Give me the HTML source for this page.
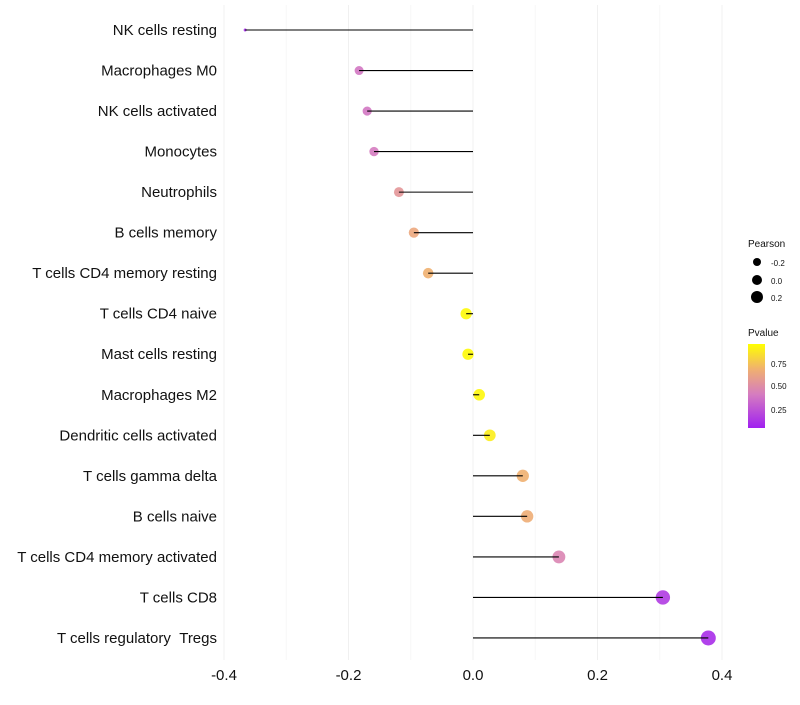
<!DOCTYPE html>
<html><head><meta charset="utf-8"><style>
body{margin:0;background:#fff;font-family:"Liberation Sans",sans-serif}
</style></head><body>
<svg id="chart" width="800" height="700" xmlns="http://www.w3.org/2000/svg">
<defs><linearGradient id="pg" x1="0" y1="1" x2="0" y2="0">
<stop offset="0" stop-color="#a020f0"/><stop offset="0.4" stop-color="#d57cc0"/><stop offset="0.7" stop-color="#f0b070"/><stop offset="1" stop-color="#ffff00"/></linearGradient></defs>
<g id="grid"></g>
<g id="marks"></g>
<g id="labels" font-size="15" fill="#111" text-anchor="end"></g>
<g id="xt" font-size="15" fill="#111" text-anchor="middle"></g>
<g font-size="10" fill="#111">
<text x="748" y="247">Pearson</text>
<circle cx="757" cy="262" r="4" fill="#000"/><text x="771" y="266" font-size="8">-0.2</text>
<circle cx="757" cy="280" r="5" fill="#000"/><text x="771" y="284" font-size="8">0.0</text>
<circle cx="757" cy="297" r="6" fill="#000"/><text x="771" y="301" font-size="8">0.2</text>
</g>
<g font-size="10" fill="#111">
<text x="748" y="336">Pvalue</text>
<rect x="748" y="344" width="17" height="84" fill="url(#pg)"/>
<text x="771" y="367" font-size="8">0.75</text><text x="771" y="389" font-size="8">0.50</text><text x="771" y="413" font-size="8">0.25</text>
</g>
</svg>
<script>
const categories=["NK cells resting","Macrophages M0","NK cells activated","Monocytes","Neutrophils","B cells memory","T cells CD4 memory resting","T cells CD4 naive","Mast cells resting","Macrophages M2","Dendritic cells activated","T cells gamma delta","B cells naive","T cells CD4 memory activated","T cells CD8","T cells regulatory\u00a0\u00a0Tregs"];
const pearson=[-0.366,-0.183,-0.170,-0.159,-0.119,-0.095,-0.072,-0.011,-0.008,0.010,0.027,0.080,0.087,0.138,0.305,0.378];
const pvalue=[0.05,0.38,0.38,0.40,0.55,0.65,0.70,0.98,0.98,0.97,0.93,0.70,0.68,0.45,0.12,0.06];
const xTicks=[-0.4,-0.2,0.0,0.2,0.4];
const xMinor=[-0.3,-0.1,0.1,0.3];
const NS="http://www.w3.org/2000/svg";
function xs(v){return 473+v*622.5;}
function ys(i){return 30+i*40.53;}
function rs(v){return 1.5+6*Math.sqrt(Math.max(0,(v+0.366)/0.744));}
function lerp(a,b,t){return Math.round(a+(b-a)*t);}
function col(p){const st=[[0,[160,32,240]],[0.4,[213,124,192]],[0.7,[240,176,112]],[1,[255,255,0]]];
 for(let k=0;k<st.length-1;k++){if(p<=st[k+1][0]){const t=(p-st[k][0])/(st[k+1][0]-st[k][0]);const a=st[k][1],b=st[k+1][1];return `rgb(${lerp(a[0],b[0],t)},${lerp(a[1],b[1],t)},${lerp(a[2],b[2],t)})`;}}return "rgb(255,255,0)";}
function mk(tag,at,parent){const e=document.createElementNS(NS,tag);for(const k in at)e.setAttribute(k,at[k]);parent.appendChild(e);return e;}
const grid=document.getElementById('grid'),marks=document.getElementById('marks'),labels=document.getElementById('labels'),xt=document.getElementById('xt');
xMinor.forEach(v=>{const l=mk('line',{x1:xs(v),x2:xs(v),y1:5,y2:660,stroke:'#f7f7f7','stroke-width':1},grid);

});
xTicks.forEach(v=>{const l=mk('line',{x1:xs(v),x2:xs(v),y1:5,y2:660,stroke:'#f0f0f0','stroke-width':1},grid);


const t=mk('text',{x:xs(v),y:680},xt);t.textContent=v.toFixed(1);

});
categories.forEach((c,i)=>{const y=ys(i);
const ci=mk('circle',{cx:xs(pearson[i]),cy:y,r:rs(pearson[i]),fill:col(pvalue[i]),'fill-opacity':0.9},marks);


const l=mk('line',{x1:xs(0),x2:xs(pearson[i]),y1:y,y2:y,stroke:'#000','stroke-width':1.1},marks);


const t=mk('text',{x:217,y:y+5},labels);t.textContent=c;

});
</script>
</body></html>
